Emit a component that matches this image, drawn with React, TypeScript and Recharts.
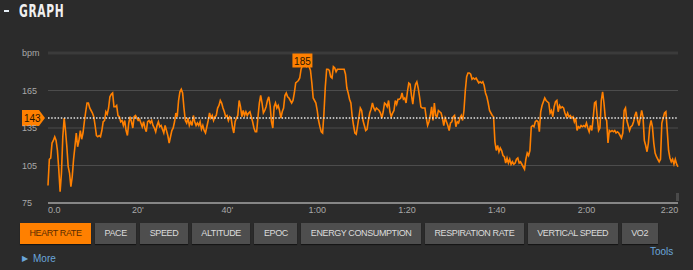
import React from 'react';
import {
  LineChart,
  Line,
  XAxis,
  YAxis,
  CartesianGrid,
  ReferenceLine,
  ReferenceDot,
} from 'recharts';

// one heart rate sample every 18 s (0.3 min)
const SAMPLE_MIN = 0.3;

const HR_BPM = [
  // 0:00 - 0:28
  89, 110, 111, 123, 125, 128, 125, 117, 102, 84,
  99, 128, 143, 133, 120, 104, 99, 88, 96, 110,
  120, 131, 120, 125, 133, 126, 131, 140, 148, 155,
  155, 151, 149, 147, 144, 137, 129, 128, 129, 128,
  133, 140, 141, 148, 146, 151, 160, 162, 163, 152,
  152, 153, 145, 144, 140, 141, 137, 141, 133, 129,
  139, 144, 140, 135, 144, 145, 143, 141, 142, 139,
  136, 140, 135, 132, 140, 141, 139, 141, 137, 135,
  132, 137, 140, 136, 137, 134, 131, 137, 133, 129,
  123, 128, 133, 135, 140, 147,
  // 0:28 - 0:56
  144, 157, 164, 166, 163, 151, 141, 139, 143, 137,
  140, 137, 145, 140, 137, 139, 137, 140, 134, 137,
  133, 131, 136, 141, 147, 143, 145, 141, 144, 145,
  151, 153, 157, 155, 151, 148, 144, 145, 141, 144,
  143, 136, 131, 140, 143, 145, 157, 152, 144, 149,
  145, 148, 145, 147, 148, 144, 140, 135, 132, 132,
  144, 155, 161, 155, 147, 149, 152, 157, 160, 153,
  140, 135, 152, 155, 151, 153, 149, 143, 148, 151,
  161, 163, 160, 159, 157, 155, 157, 163, 171, 172,
  173, 175,
  // 0:56 - 1:24
  182, 185, 185, 185, 184, 185, 184, 181, 171, 159,
  157, 155, 149, 141, 136, 132, 131, 147, 168, 182,
  182, 181, 176, 175, 184, 183, 180, 182, 182, 182,
  182, 182, 182, 178, 167, 163, 158, 155, 144, 137,
  131, 130, 137, 144, 151, 149, 141, 137, 133, 134,
  141, 147, 150, 155, 151, 149, 151, 150, 149, 147,
  143, 148, 155, 154, 152, 157, 148, 144, 147, 149,
  157, 154, 158, 158, 159, 163, 158, 159, 155, 164,
  171, 170, 161, 154, 164, 170, 172, 167, 160, 152,
  151, 151, 151,
  // 1:24 - 1:52
  143, 137, 140, 145, 152, 141, 155, 145, 144, 149,
  148, 147, 143, 137, 143, 140, 137, 133, 139, 140,
  144, 145, 136, 140, 139, 143, 145, 141, 149, 165,
  176, 179, 179, 178, 174, 175, 174, 175, 173, 171,
  172, 171, 172, 169, 163, 160, 155, 149, 147, 145,
  144, 124, 117, 121, 116, 119, 117, 113, 112, 107,
  111, 107, 110, 106, 108, 106, 107, 110, 111, 107,
  108, 106, 104, 102, 110, 115, 113, 117, 136, 137,
  136, 140, 141, 140, 132, 148, 153, 156, 159, 157,
  156, 155, 147,
  // 1:52 - 2:20
  149, 144, 152, 156, 157, 148, 153, 151, 152, 151,
  147, 144, 147, 144, 145, 143, 144, 140, 143, 133,
  136, 135, 137, 136, 137, 136, 139, 135, 132, 137,
  133, 143, 155, 156, 144, 133, 135, 157, 164, 155,
  143, 141, 123, 133, 132, 133, 132, 133, 131, 132,
  131, 129, 127, 131, 149, 151, 141, 137, 133, 136,
  137, 140, 145, 148, 141, 137, 143, 149, 144, 125,
  121, 116, 123, 136, 141, 136, 123, 115, 112, 110,
  108, 110, 139, 143, 147, 148, 133, 117, 111, 108,
  110, 106, 110, 106, 104,
];

const X_TICKS = [0, 20, 40, 60, 80, 100, 120, 140];
const X_TICK_LABELS = ['0.0', "20'", "40'", '1:00', '1:20', '1:40', '2:00', '2:20'];
const Y_TICKS = [75, 105, 135, 165, 195];
const Y_TICK_LABELS = ['75', '105', '135', '165', 'bpm'];
const AVG_BPM = 143;
const METRIC_TABS = [
  'HEART RATE',
  'PACE',
  'SPEED',
  'ALTITUDE',
  'EPOC',
  'ENERGY CONSUMPTION',
  'RESPIRATION RATE',
  'VERTICAL SPEED',
  'VO2',
];

const data = HR_BPM.map((bpm, i) => ({ min: Math.round(i * SAMPLE_MIN * 10) / 10, bpm }));
const maxBpm = Math.max(...HR_BPM);
const maxPoint = data[HR_BPM.indexOf(maxBpm)];
const xEnd = data[data.length - 1].min;

const ORANGE = '#ff8000';
const BG = '#2b2b2b';
const LINK = '#6aa6da';
const TICK_FONT = '"Liberation Sans", Arial, sans-serif';

const XTick = (props: any) => {
  const { x, y, payload } = props;
  const idx = X_TICKS.indexOf(payload.value);
  const anchor = idx === 0 ? 'start' : idx === X_TICKS.length - 1 ? 'end' : 'middle';
  const tx = idx === X_TICKS.length - 1 ? x + 2 : x;
  return (
    <text x={tx} y={y + 10} textAnchor={anchor} fontSize={9} fontFamily={TICK_FONT} fill="#a9a9a9">
      {X_TICK_LABELS[idx]}
    </text>
  );
};

const YTick = (props: any) => {
  const { y, payload } = props;
  const idx = Y_TICKS.indexOf(payload.value);
  return (
    <text x={22} y={y + 3.2} textAnchor="start" fontSize={9} fontFamily={TICK_FONT} fill="#a9a9a9">
      {Y_TICK_LABELS[idx]}
    </text>
  );
};

const AvgTag = (props: any) => {
  const { x, y } = props.viewBox;
  const pts = `${x - 26},${y - 8} ${x - 9},${y - 8} ${x - 3},${y} ${x - 9},${y + 8} ${x - 26},${y + 8}`;
  return (
    <g>
      <polygon points={pts} fill={ORANGE} />
      <text x={x - 24} y={y + 3.5} fontSize={10} fontFamily={TICK_FONT} fill="#2a1600">
        {AVG_BPM}
      </text>
    </g>
  );
};

const MaxTag = (props: any) => {
  const { cx, cy } = props;
  return (
    <g>
      <rect x={cx - 10} y={cy - 12} width={20} height={14} fill={ORANGE} />
      <text x={cx} y={cy - 1} textAnchor="middle" fontSize={10} fontFamily={TICK_FONT} fill="#2a1600">
        {maxBpm}
      </text>
    </g>
  );
};

const tabStyle = (active: boolean): React.CSSProperties => ({
  height: 21,
  lineHeight: '21px',
  padding: '0 9.5px',
  fontSize: 9,
  letterSpacing: -0.4,
  fontFamily: TICK_FONT,
  background: active ? ORANGE : '#4e4e4e',
  color: active ? '#5a2c00' : '#dcdcdc',
  boxShadow: '0 1px 1px rgba(0,0,0,0.5)',
  whiteSpace: 'nowrap',
});

export default function App() {
  return (
    <div
      style={{
        position: 'absolute',
        left: 0,
        top: 0,
        width: 693,
        height: 270,
        background: BG,
        overflow: 'hidden',
        fontFamily: TICK_FONT,
      }}
    >
      {/* header */}
      <div style={{ position: 'absolute', left: 4, top: 10, width: 5, height: 2, background: '#e6eef6' }} />
      <div
        style={{
          position: 'absolute',
          left: 19,
          top: 0,
          fontSize: 18,
          lineHeight: '22px',
          fontFamily: '"DejaVu Sans Condensed", "DejaVu Sans", sans-serif',
          fontWeight: 'bold',
          color: '#f0f0f0',
          transform: 'scaleX(0.66)',
          transformOrigin: 'left center',
          letterSpacing: 1,
        }}
      >
        GRAPH
      </div>

      <div style={{ position: 'absolute', left: 0, top: 0 }}>
        <LineChart width={693} height={225} data={data} margin={{ top: 53, right: 15, left: 20, bottom: 2 }}>
          <CartesianGrid vertical={false} stroke="#4c4c4c" />
          <XAxis
            type="number"
            dataKey="min"
            domain={[0, xEnd]}
            ticks={X_TICKS}
            tick={<XTick />}
            tickLine={false}
            tickSize={0}
            tickMargin={0}
            height={20}
            axisLine={{ stroke: '#a0a0a0', strokeWidth: 1.5 }}
            interval={0}
          />
          <YAxis
            type="number"
            domain={[75, 195]}
            ticks={Y_TICKS}
            tick={<YTick />}
            tickLine={false}
            axisLine={false}
            width={28}
            interval={0}
          />
          <ReferenceLine y={195} stroke="#3b3b3b" strokeWidth={3} />
          <Line
            type="linear"
            dataKey="bpm"
            stroke={ORANGE}
            strokeWidth={1.6}
            dot={false}
            activeDot={false}
            isAnimationActive={false}
          />
          <ReferenceLine
            y={AVG_BPM}
            stroke="#e8e8e8"
            strokeWidth={1.3}
            strokeDasharray="1.5 1.7"
            label={<AvgTag />}
          />
          <ReferenceDot x={maxPoint.min} y={maxBpm} ifOverflow="visible" shape={<MaxTag />} />
        </LineChart>
      </div>

      {/* scroll handle */}
      <div style={{ position: 'absolute', left: 676, top: 193, width: 3, height: 8, background: '#4a4a4a' }} />

      {/* metric tabs */}
      <div style={{ position: 'absolute', left: 20, top: 223, display: 'flex', gap: 4 }}>
        {METRIC_TABS.map((t, i) => (
          <div key={t} style={tabStyle(i === 0)}>
            {t}
          </div>
        ))}
      </div>

      <div style={{ position: 'absolute', left: 650, top: 246, fontSize: 10, color: LINK }}>Tools</div>
      <div
        style={{
          position: 'absolute',
          left: 22,
          top: 253,
          fontSize: 10,
          color: LINK,
          display: 'flex',
          alignItems: 'center',
        }}
      >
        <span style={{ fontSize: 8, marginRight: 5 }}>▶</span>
        More
      </div>
    </div>
  );
}
